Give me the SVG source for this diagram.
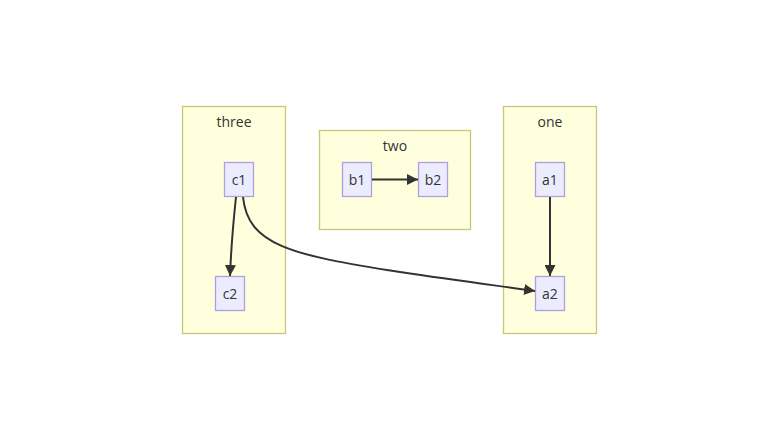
<svg xmlns="http://www.w3.org/2000/svg" width="780" height="440" viewBox="0 0 780 440">
<defs>
<style>
.cluster rect{fill:#ffffde;stroke:#c8c878;stroke-width:1.3}
.node rect{fill:#ececff;stroke:#b09ee0;stroke-width:1.3}
text{font-family:"Open Sans","DejaVu Sans",sans-serif;font-size:14px;fill:#333;text-anchor:middle}
.edge{fill:none;stroke:#333;stroke-width:2;marker-end:url(#arrow)}
</style>
<marker id="arrow" viewBox="0 0 10 10" refX="10" refY="5" markerUnits="userSpaceOnUse" markerWidth="11" markerHeight="11" orient="auto">
<path d="M0,0 L10,5 L0,10 z" fill="#333"/>
</marker>
</defs>
<rect width="780" height="440" fill="#fff"/>
<g id="three" class="cluster"><rect x="182.5" y="106.5" width="103" height="227"/><text x="234" y="127">three</text></g>
<g id="two" class="cluster"><rect x="319.5" y="130.5" width="151" height="99"/><text x="395" y="151">two</text></g>
<g id="one" class="cluster"><rect x="503.5" y="106.5" width="93" height="227"/><text x="550" y="127">one</text></g>
<g id="c1" class="node"><rect x="224.5" y="162.5" width="29" height="34"/><text x="239" y="184.5">c1</text></g>
<g id="c2" class="node"><rect x="215.5" y="276.5" width="29" height="34"/><text x="230" y="298.5">c2</text></g>
<g id="b1" class="node"><rect x="342.5" y="162.5" width="29" height="34"/><text x="357" y="184.5">b1</text></g>
<g id="b2" class="node"><rect x="418.5" y="162.5" width="29" height="34"/><text x="433" y="184.5">b2</text></g>
<g id="a1" class="node"><rect x="535.5" y="162.5" width="29" height="34"/><text x="550" y="184.5">a1</text></g>
<g id="a2" class="node"><rect x="535.5" y="276.5" width="29" height="34"/><text x="550" y="298.5">a2</text></g>
<g id="edges">
<path class="edge" d="M236,197 C233,225 231,250 230,276"/>
<path class="edge" d="M243,197 C248,245 290,255 400,272 C460,281 500,286 535,291"/>
<path class="edge" d="M372,179.5 L418,179.5"/>
<path class="edge" d="M550,197 L550,276"/>
</g>
</svg>
